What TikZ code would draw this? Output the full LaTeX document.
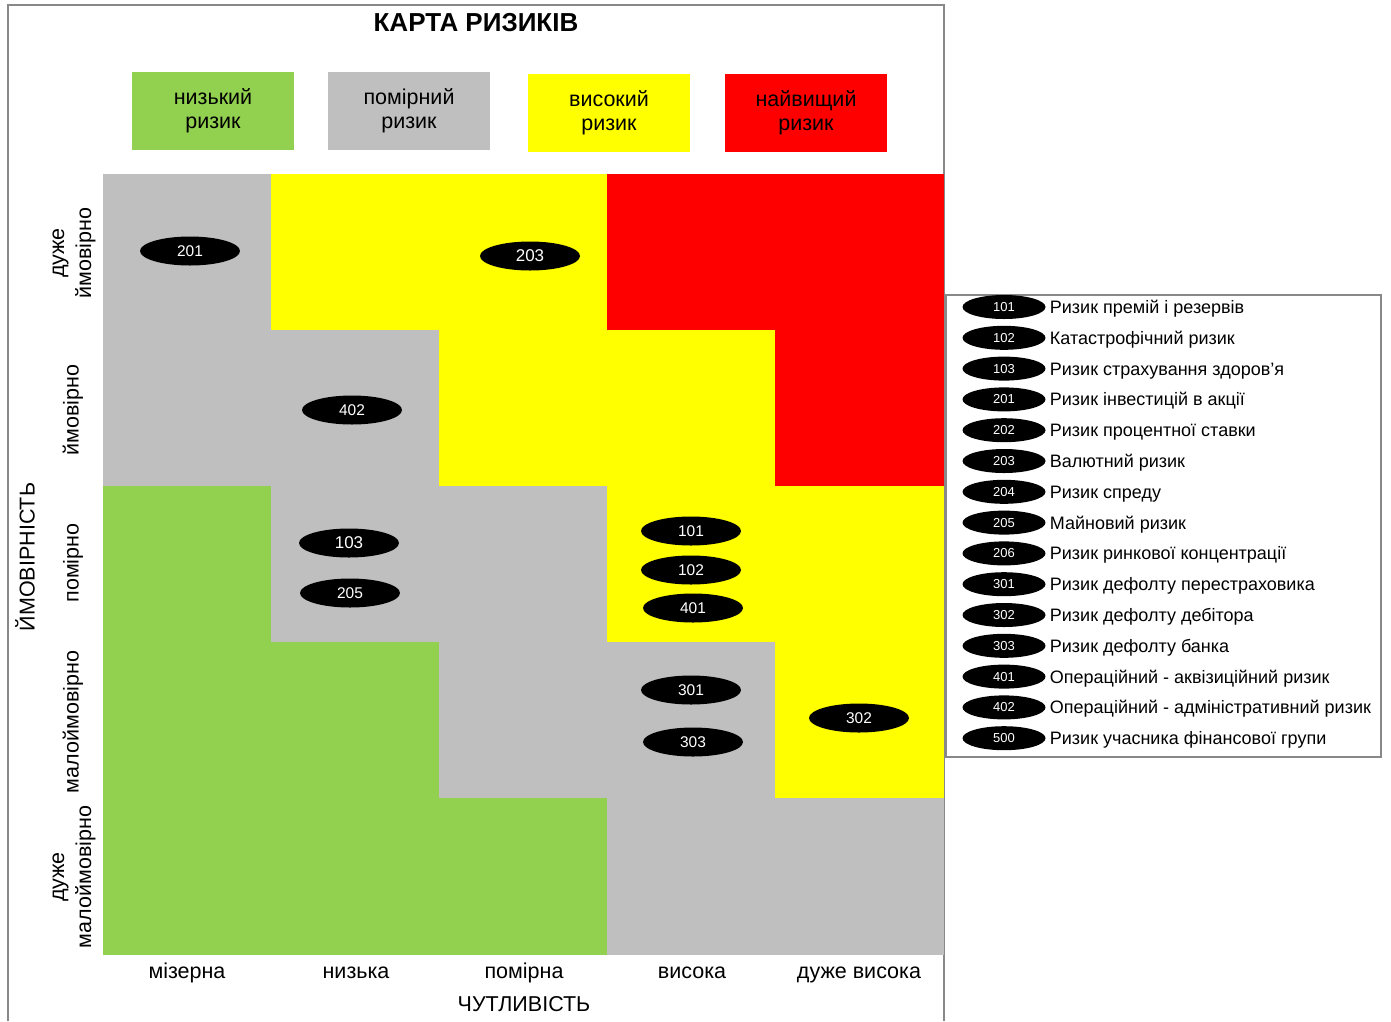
\documentclass[tikz,border=0pt]{standalone}
\usepackage{fontspec}
\setmainfont{Liberation Sans}
\usepackage{tikz}
\usetikzlibrary{shapes.geometric,positioning}
\definecolor{riskgreen}{RGB}{146,208,80}
\definecolor{riskgray}{RGB}{191,191,191}
\definecolor{riskyellow}{RGB}{255,255,0}
\definecolor{riskred}{RGB}{255,0,0}
\definecolor{framegray}{RGB}{136,136,136}
\tikzset{
    %Define style for matrix cells
    cell/.style={
           rectangle,
           draw=none,
           inner sep=0pt,
           minimum width=168.6pt,
           minimum height=156.6pt,
           anchor=north west},
    %Define style for risk level boxes
    levelbox/.style={
           rectangle,
           draw=none,
           inner sep=0pt,
           minimum width=162pt,
           minimum height=78pt,
           align=center,
           font=\fontsize{21.5}{24}\selectfont},
    %Define style for risk tags on the map
    tag/.style={
           ellipse,
           fill=black,
           inner sep=0pt,
           minimum width=100pt,
           minimum height=29pt,
           text=white,
           font=\fontsize{15.5}{15.5}\selectfont},
    %Define style for tags in the list
    keytag/.style={
           ellipse,
           fill=black,
           inner sep=0pt,
           minimum width=83pt,
           minimum height=24pt,
           text=white,
           font=\fontsize{13}{13}\selectfont},
    keytext/.style={
           anchor=west,
           inner sep=1pt,
           text height=13pt,
           text depth=4pt,
           font=\fontsize{18}{18}\selectfont},
    rowlabel/.style={
           rotate=90,
           align=center,
           font=\fontsize{21.5}{27}\selectfont},
    collabel/.style={
           anchor=base,
           font=\fontsize{21.5}{21.5}\selectfont},
    frame/.style={
           draw=framegray,
           line width=2pt}
}

\begin{document}
\begin{tikzpicture}[x=1pt,y=-1pt]
\useasboundingbox (0,0) rectangle (1391,1021);
\draw[frame] (8,1021) -- (8,5) -- (944,5) -- (944,1021);
\node[font=\fontsize{26}{26}\selectfont\bfseries] (title) at (476,23) {КАРТА РИЗИКІВ};
 %level boxes
\node[levelbox, fill=riskgreen] (low) at (213,111) {низький\\ризик};
\node[levelbox, fill=riskgray] (moderate) at (409,111) {помірний\\ризик};
\node[levelbox, fill=riskyellow] (high) at (609,113) {високий\\ризик};
\node[levelbox, fill=riskred] (highest) at (806,113) {найвищий\\ризик};
 %map cells
\foreach \colors [count=\r] in {
    {riskgray,riskyellow,riskyellow,riskred,riskred},
    {riskgray,riskgray,riskyellow,riskyellow,riskred},
    {riskgreen,riskgray,riskgray,riskyellow,riskyellow},
    {riskgreen,riskgreen,riskgray,riskgray,riskyellow},
    {riskgreen,riskgreen,riskgreen,riskgray,riskgray}}
  \foreach \c [count=\i] in \colors
    \node[cell, fill=\c] (cell-\r-\i) at ({103+168*(\i-1)},{174+156*(\r-1)}) {};
 %risk tags
\node[tag] (t201) at (190,251) {201};
\node[tag, font=\fontsize{17}{17}\selectfont] (t203) at (530,256) {203};
\node[tag] (t402) at (352,410) {402};
\node[tag, font=\fontsize{17}{17}\selectfont] (t103) at (349,543) {103};
\node[tag] (t205) at (350,593) {205};
\node[tag] (t101) at (691,531) {101};
\node[tag] (t102) at (691,570) {102};
\node[tag] (t401) at (693,608) {401};
\node[tag] (t301) at (691,690) {301};
\node[tag] (t303) at (693,742) {303};
\node[tag] (t302) at (859,718) {302};
 %axis labels
\node[rowlabel] (r1) at (74,253) {дуже\\ймовірно};
\node[rowlabel] (r2) at (73,410) {ймовірно};
\node[rowlabel] (r3) at (73,563) {помірно};
\node[rowlabel] (r4) at (73,722) {малоймовірно};
\node[rowlabel] (r5) at (74,877) {дуже\\малоймовірно};
\node[rowlabel] (yaxis) at (25,557) {ЙМОВІРНІСТЬ};
\node[collabel] (c1) at (187,978) {мізерна};
\node[collabel] (c2) at (356,978) {низька};
\node[collabel] (c3) at (524,978) {помірна};
\node[collabel] (c4) at (692,978) {висока};
\node[collabel] (c5) at (859,978) {дуже висока};
\node[collabel] (xaxis) at (524,1011) {ЧУТЛИВІСТЬ};
 %list of risks
\draw[draw=framegray, line width=1.5pt] (946,295) rectangle (1381,757);
\foreach \code/\name [count=\k] in {
    101/Ризик премій і резервів,
    102/Катастрофічний ризик,
    103/Ризик страхування здоров’я,
    201/Ризик інвестицій в акції,
    202/Ризик процентної ставки,
    203/Валютний ризик,
    204/Ризик спреду,
    205/Майновий ризик,
    206/Ризик ринкової концентрації,
    301/Ризик дефолту перестраховика,
    302/Ризик дефолту дебітора,
    303/Ризик дефолту банка,
    401/Операційний - аквізиційний ризик,
    402/Операційний - адміністративний ризик,
    500/Ризик учасника фінансової групи}
  {
    \node[keytag] (key-\code) at (1004,{307+30.8*(\k-1)}) {\code};
    \node[keytext, right=3pt of key-\code, yshift=-2pt] (name-\code) {\name};
  }
\end{tikzpicture}
\end{document}
